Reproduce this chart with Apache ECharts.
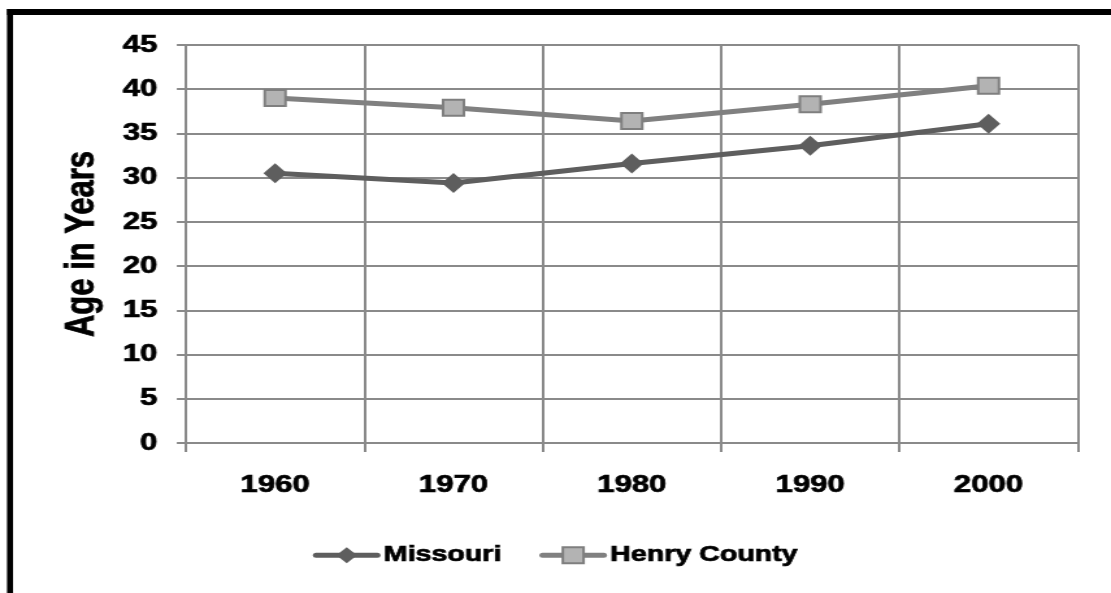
<!DOCTYPE html>
<html>
<head>
<meta charset="utf-8">
<script src="https://cdn.jsdelivr.net/npm/echarts@6/dist/echarts.min.js"></script>
<style>
  html, body { margin: 0; padding: 0; background: #fff; overflow: hidden; }
  #wrap { width: 1111px; height: 593px; overflow: hidden; position: relative; }
  /* the chart is laid out narrower and widened horizontally to the final 1111px */
  #chart { width: 855px; height: 593px; transform: scaleX(1.2994); transform-origin: 0 0; }
</style>
</head>
<body>
<div id="wrap"><div id="chart"></div></div>
<script>
// Census years on the category axis
const years = ['1960', '1970', '1980', '1990', '2000'];
// Median age in years
const missouri = [30.5, 29.4, 31.6, 33.6, 36.1];
const henryCounty = [39.0, 37.9, 36.4, 38.3, 40.4];
// Value axis range
const yMin = 0, yMax = 45, yStep = 5;

const FONT = 'Liberation Sans, Arial, sans-serif';
const GRID = '#8a8a8a';
// heavy black text, slightly thickened with an outline of the same colour
const heavy = (size) => ({
  fontFamily: FONT, fontWeight: 'bold', fontSize: size, color: '#000',
  textBorderColor: '#000', textBorderWidth: 0.7
});

const chart = echarts.init(document.getElementById('chart'), null, { renderer: 'canvas' });

chart.setOption({
  animation: false,
  backgroundColor: '#ffffff',
  graphic: [
    { type: 'rect', shape: { x: 5.4, y: 9, width: 860, height: 6 }, style: { fill: '#000' } },
    { type: 'rect', shape: { x: 5.4, y: 9, width: 4.6, height: 600 }, style: { fill: '#000' } }
  ],
  grid: { left: 143.1, right: 25.6, top: 45, bottom: 150, containLabel: false },
  legend: {
    left: 'center',
    top: 539,
    itemWidth: 47,
    itemHeight: 20,
    itemGap: 29,
    lineStyle: { width: 5, cap: 'round' },
    textStyle: Object.assign(heavy(22), { padding: [0, 0, 0, 0] }),
    data: ['Missouri', 'Henry County']
  },
  xAxis: {
    type: 'category',
    data: years,
    boundaryGap: true,
    axisLine: { show: true, lineStyle: { color: GRID, width: 2 } },
    axisTick: { show: true, length: 9, lineStyle: { color: GRID, width: 2 } },
    splitLine: { show: true, lineStyle: { color: GRID, width: 2 } },
    axisLabel: Object.assign(heavy(24), { margin: 30 })
  },
  yAxis: {
    type: 'value',
    min: yMin, max: yMax, interval: yStep,
    name: 'Age in Years',
    nameLocation: 'middle',
    nameGap: 64,
    nameTextStyle: heavy(31),
    axisLine: { show: true, lineStyle: { color: GRID, width: 2 } },
    axisTick: { show: true, length: 7, lineStyle: { color: GRID, width: 2 } },
    splitLine: { show: true, lineStyle: { color: GRID, width: 2 } },
    axisLabel: Object.assign(heavy(24), { margin: 22 })
  },
  series: [
    {
      name: 'Missouri',
      type: 'line',
      data: missouri,
      symbol: 'diamond',
      symbolSize: [18, 20],
      showAllSymbol: true,
      lineStyle: { color: '#5e5e5e', width: 5 },
      itemStyle: { color: '#5e5e5e', borderWidth: 0 },
      z: 3
    },
    {
      name: 'Henry County',
      type: 'line',
      data: henryCounty,
      symbol: 'rect',
      symbolSize: [16, 16],
      showAllSymbol: true,
      lineStyle: { color: '#808080', width: 5 },
      itemStyle: { color: '#b3b3b3', borderColor: '#7f7f7f', borderWidth: 2 },
      z: 2
    }
  ]
});
</script>
</body>
</html>
